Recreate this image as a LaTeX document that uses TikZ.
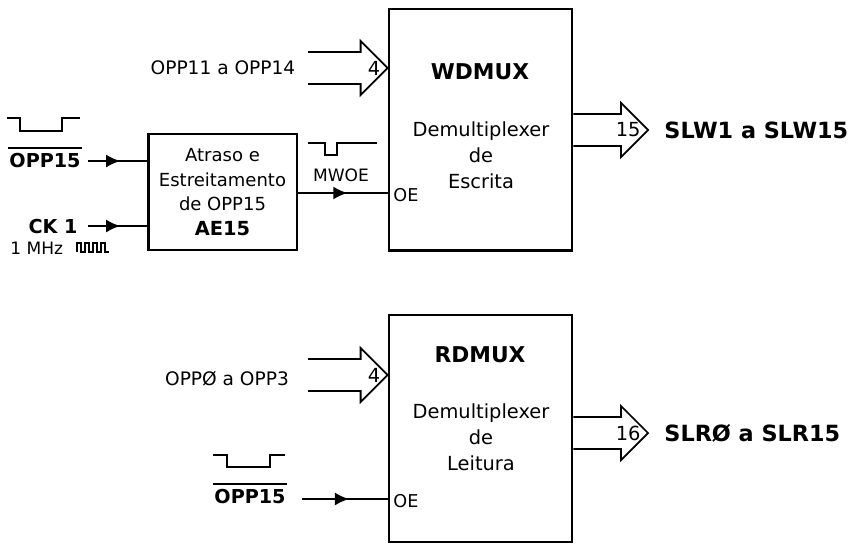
\documentclass[tikz,border=0pt]{standalone}
\usepackage{fontspec}
\setmainfont{DejaVu Sans}
\usepackage{tikz}
\usetikzlibrary{arrows.meta, positioning, calc, decorations.markings}

\newcommand{\busarrow}[4]{%
  \coordinate (#3s) at (#1);
  \coordinate (#3t) at (#2);
  \draw[bus] ($(#3s)+(0,-16)$) -- ($(#3t)+(-27,-16)$) -- ($(#3t)+(-27,-27)$) -- (#3t)
    -- ($(#3t)+(-27,27)$) -- ($(#3t)+(-27,16)$) -- ($(#3s)+(0,16)$);
  \node[lbl, font=\fontsize{16.5}{18}\selectfont, anchor=east] (#3) at ($(#3t)+(-6,0)$) {#4};
}

\begin{document}
\begin{tikzpicture}[
  x=0.85pt, y=-0.85pt,
  lbl/.style={font=\fontsize{15.8}{18}\selectfont, inner sep=1pt},
  smlbl/.style={font=\fontsize{14.5}{16}\selectfont, inner sep=1pt},
  blbl/.style={font=\fontsize{16.3}{18}\selectfont\bfseries, inner sep=1pt},
  biglbl/.style={font=\fontsize{19}{21}\selectfont\bfseries, inner sep=1pt},
  title/.style={font=\fontsize{18.5}{20}\selectfont\bfseries, inner sep=1pt},
  block/.style={draw, line width=2.4pt, inner sep=0pt},
  boxtext/.style={font=\fontsize{16.5}{22}\selectfont, align=center, inner sep=0pt},
  aetext/.style={font=\fontsize{15.3}{21}\selectfont, align=center, inner sep=0pt},
  bus/.style={line width=1.5pt, line join=miter},
  wave/.style={line width=1.6pt},
  sig/.style={line width=1.6pt, postaction={decorate},
    decoration={markings, mark=at position 0.55 with {\arrow{Latex[length=12pt,width=11pt]}}}}
]
  \useasboundingbox (0,0) rectangle (854,556);

  % blocks
  \node[block, minimum width=155.5pt, minimum height=205pt] (wd) at (480.5,129.5) {};
  \node[block, minimum width=155.5pt, minimum height=193pt] (rd) at (480.5,428.5) {};
  \node[block, aetext, minimum width=126.5pt, minimum height=98.5pt] (ae) at (222.5,192)
    {Atraso e\\Estreitamento\\de OPP15\\{\fontsize{16.5}{18}\selectfont\bfseries AE15}};

  \node[title] (wdname) at (480,72) {WDMUX};
  \node[boxtext] (wdtxt) at (481,155) {Demultiplexer\\de\\Escrita};
  \node[title] (rdname) at (480,355) {RDMUX};
  \node[boxtext] (rdtxt) at (481,437) {Demultiplexer\\de\\Leitura};

  % buses
  \node[lbl] (wdin) at (223,68) {OPP11 a OPP14};
  \coordinate (wdbus) at (308,68);
  \busarrow{wdbus}{wd.west |- wdbus}{wdw}{4}
  \coordinate (wdout) at (648,130);
  \busarrow{wd.east |- wdout}{wdout}{wdn}{15}
  \node[biglbl, anchor=west] (slw) at (663,130) {SLW1 a SLW15};

  \node[lbl] (rdin) at (227,379) {OPPØ a OPP3};
  \coordinate (rdbus) at (308,375);
  \busarrow{rdbus}{rd.west |- rdbus}{rdw}{4}
  \coordinate (rdout) at (648,433);
  \busarrow{rd.east |- rdout}{rdout}{rdn}{16}
  \node[biglbl, anchor=west] (slr) at (663,433) {SLRØ a SLR15};

  % inputs of AE15
  \node[blbl] (opp15a) at (45,161) {OPP15};
  \draw[line width=1.8pt] ([yshift=4pt]opp15a.north west) -- ([yshift=4pt]opp15a.north east);
  \draw[wave] (7,118) -- (20,118) -- (20,131) -- (62,131) -- (62,118) -- (80,118);
  \coordinate (opp15s) at (88,161);
  \draw[sig] (opp15s) -- (ae.west |- opp15s);

  \node[blbl] (ck1) at (53,227) {CK 1};
  \coordinate (ck1s) at (88,226);
  \draw[sig] (ck1s) -- (ae.west |- ck1s);
  \node[smlbl, anchor=west] (mhz) at (9,248) {1 MHz};
  \draw[line width=0.9pt] (77,252) \foreach \i in {1,...,4} { -- ++(0,-9) -- ++(4,0) -- ++(0,9) -- ++(4,0) };

  % enable lines
  \coordinate (mwoe) at (340,193);
  \draw[sig] (ae.east |- mwoe) -- (wd.west |- mwoe);
  \node[lbl, font=\fontsize{14.5}{16}\selectfont] (mwoelbl) at (341,175) {MWOE};
  \draw[wave] (308,143) -- (325,143) -- (325,155) -- (337,155) -- (337,143) -- (377,143);
  \node[smlbl, font=\fontsize{15}{17}\selectfont, anchor=west] (wdoe) at (392,195) {OE};

  \node[blbl] (opp15b) at (250,497) {OPP15};
  \draw[line width=1.8pt] ([yshift=4pt]opp15b.north west) -- ([yshift=4pt]opp15b.north east);
  \draw[wave] (213,455) -- (227,455) -- (227,467) -- (270,467) -- (270,455) -- (285,455);
  \coordinate (oe2) at (302,499);
  \draw[sig] (oe2) -- (rd.west |- oe2);
  \node[smlbl, font=\fontsize{15}{17}\selectfont, anchor=west] (rdoe) at (392,501) {OE};
\end{tikzpicture}
\end{document}
